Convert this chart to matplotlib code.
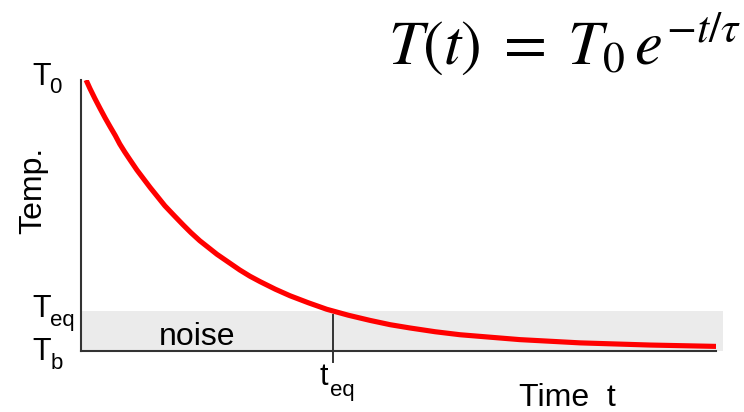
import matplotlib
matplotlib.use("Agg")
import matplotlib.pyplot as plt
from matplotlib.patches import Rectangle

# curve (time in arbitrary units, temperature with Tb = 0, T0 = 1)
time = [0.08, 0.14, 0.22, 0.30, 0.38, 0.46, 0.54, 0.61, 0.69, 0.77, 0.88,
        0.98, 1.09, 1.20, 1.32, 1.47, 1.61, 1.73, 1.87, 2.00, 2.14, 2.32,
        2.50, 2.66, 2.82, 3.06, 3.29, 3.58, 3.87, 4.21, 4.55, 4.87, 5.18,
        5.58, 5.97, 6.91, 7.86, 8.96, 10.0]
temp = [1.000, 0.969, 0.931, 0.895, 0.860, 0.827, 0.795, 0.764, 0.734, 0.706,
        0.668, 0.637, 0.603, 0.571, 0.536, 0.499, 0.465, 0.437, 0.407, 0.383,
        0.357, 0.328, 0.299, 0.276, 0.256, 0.228, 0.204, 0.178, 0.154, 0.132,
        0.113, 0.097, 0.085, 0.071, 0.060, 0.042, 0.030, 0.022, 0.017]

T_EQ = 0.148
T_EQ_TIME = 3.97
BAND_END = 10.11

SANS = ["Liberation Sans", "DejaVu Sans"]
plt.rcParams["font.family"] = SANS
plt.rcParams["mathtext.fontset"] = "stix"

W, H = 744, 412
fig = plt.figure(figsize=(W / 100, H / 100), dpi=100)
ax = fig.add_axes([81 / W, 1 - 351 / H, (716 - 81) / W, (351 - 80) / H])
ax.set_xlim(0, 10)
ax.set_ylim(0, 1)

ax.add_patch(Rectangle((0, 0), BAND_END, T_EQ, facecolor="#ebebeb",
                       edgecolor="none", clip_on=False, zorder=0))
ax.plot(time, temp, color="#ff0000", lw=3.7, solid_capstyle="butt",
        solid_joinstyle="round", zorder=3)
ax.plot([T_EQ_TIME, T_EQ_TIME], [0.133, -0.041], color="#333333", lw=1.4,
        clip_on=False, zorder=2)

for side in ("top", "right"):
    ax.spines[side].set_visible(False)
for side in ("left", "bottom"):
    ax.spines[side].set_color("#333333")
    ax.spines[side].set_linewidth(1.5)
ax.set_xticks([])
ax.set_yticks([])
ax.patch.set_alpha(0)


def px(x, y):
    return x / W, 1 - y / H


def label(x, y, s, size, **kw):
    fig.text(*px(x, y), s, fontsize=size, ha="left", va="baseline", **kw)


label(32, 85, "T", 22)
label(49, 93, "0", 16)
label(32, 317, "T", 22)
label(50, 326, "eq", 16)
label(32, 360, "T", 22)
label(51, 369, "b", 16)
label(320, 385, "t", 22)
label(330, 396, "eq", 16)
label(519, 406, "Time  t", 23)
label(159, 345, "noise", 23)
fig.text(*px(33, 190), "Temp.", fontsize=23, rotation=90, ha="center",
         va="center")
fig.text(*px(388, 64), r"$T(t)\;=\;T_0\,e^{-t/\tau}$", fontsize=45,
         ha="left", va="baseline")

fig.savefig("out.png", dpi=100)
